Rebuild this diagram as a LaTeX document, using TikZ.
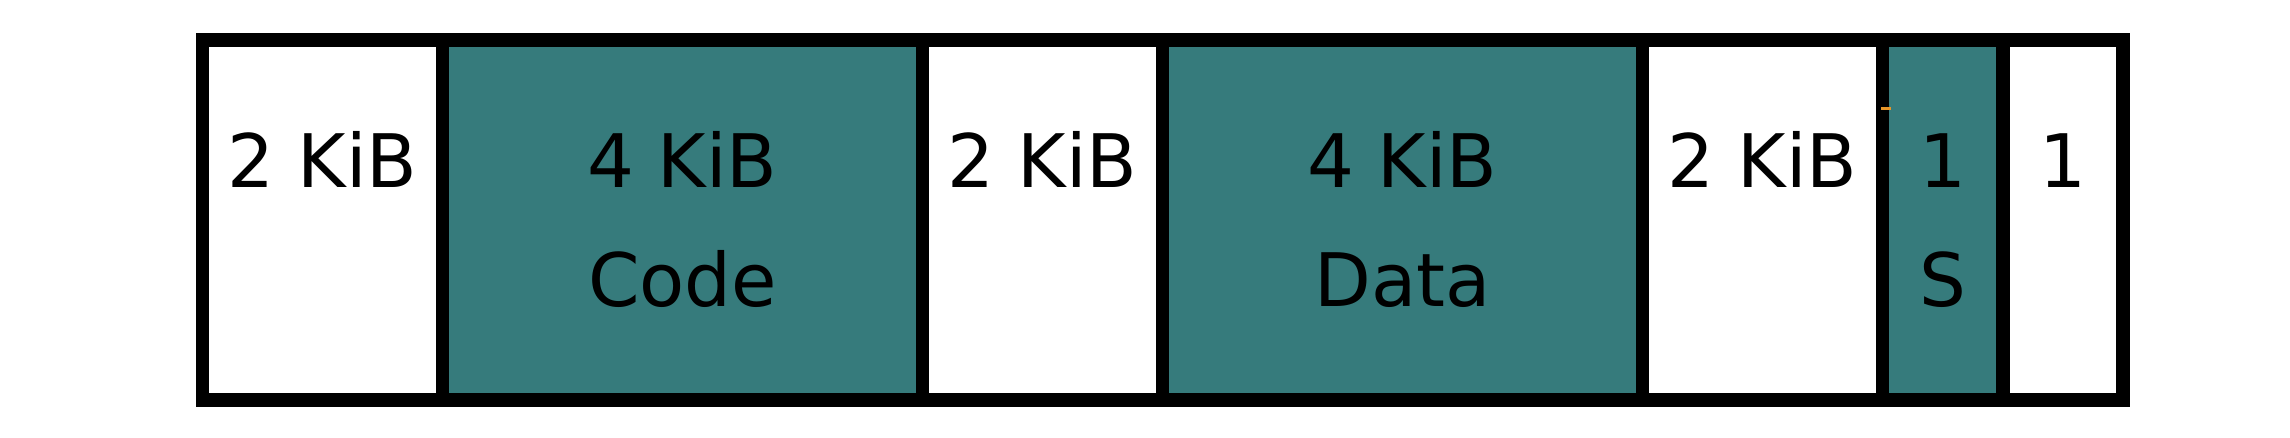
\documentclass[tikz,border=0pt]{standalone}
\usepackage{fontspec}
\setmainfont{DejaVu Sans}
\usepackage{xcolor}
\usetikzlibrary{positioning}
\definecolor{memteal}{RGB}{54,123,124}
\definecolor{tickorange}{RGB}{232,150,40}

\begin{document}
\begin{tikzpicture}[cell/.style={draw=black,line width=3.3pt,outer sep=0pt,inner sep=0pt,minimum height=3cm},
free/.style={cell,fill=white},used/.style={cell,fill=memteal},
lbl/.style={anchor=base,inner sep=0pt,font=\fontsize{17.5}{21}\selectfont}]
\useasboundingbox(0,0)rectangle(19.0833,3.65);
\node[free,minimum width=2cm,anchor=south west](c1)at(1.6875,0.3167){};
\node[used,minimum width=4cm,right=0pt of c1](c2){};
\node[free,minimum width=2cm,right=0pt of c2](c3){};
\node[used,minimum width=4cm,right=0pt of c3](c4){};
\node[free,minimum width=2cm,right=0pt of c4](c5){};
\node[used,minimum width=1cm,right=0pt of c5](c6){};
\node[free,minimum width=1cm,right=0pt of c6](c7){};
\node[lbl](t1)at([yshift=-1.2333cm]c1.north){2 KiB};
\node[lbl](t2)at([yshift=-1.2333cm]c2.north){4 KiB};\node[lbl](b2)at([yshift=-2.225cm]c2.north){Code};
\node[lbl](t3)at([yshift=-1.2333cm]c3.north){2 KiB};
\node[lbl](t4)at([yshift=-1.2333cm]c4.north){4 KiB};\node[lbl](b4)at([yshift=-2.225cm]c4.north){Data};
\node[lbl](t5)at([yshift=-1.2333cm]c5.north){2 KiB};
\node[lbl](t6)at([yshift=-1.2333cm]c6.north){1};\node[lbl](b6)at([yshift=-2.225cm]c6.north){S};
\node[lbl](t7)at([yshift=-1.2333cm]c7.north){1};
\draw[tickorange,line width=0.8pt](15.675,2.746)--(15.758,2.746);
\end{tikzpicture}
\end{document}
